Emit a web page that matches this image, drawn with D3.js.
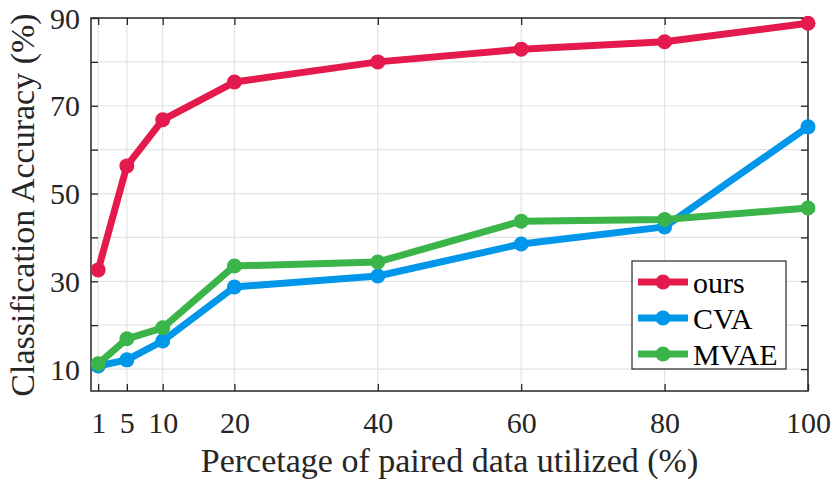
<!DOCTYPE html>
<html>
<head>
<meta charset="utf-8">
<script src="https://cdn.jsdelivr.net/npm/d3@7"></script>
<style>
  html, body { margin: 0; padding: 0; background: #fff; }
  svg { display: block; font-family: "Liberation Serif", "Times New Roman", serif; }
</style>
</head>
<body>
<svg id="chart" width="833" height="482"></svg>
<script>
// Percentage of paired data used for training
const xValues = [1, 5, 10, 20, 40, 60, 80, 100];
const xTickLabels = ["1", "5", "10", "20", "40", "60", "80", "100"];
const yTickLabels = [10, 30, 50, 70, 90];
const yGrid = [10, 20, 30, 40, 50, 60, 70, 80, 90];

// Classification accuracy (%) per method
const oursAcc = [32.6, 56.3, 66.8, 75.4, 80.0, 82.9, 84.6, 88.8];
const cvaAcc  = [10.7, 12.1, 16.4, 28.7, 31.2, 38.5, 42.4, 65.2];
const mvaeAcc = [11.2, 16.9, 19.4, 33.5, 34.4, 43.7, 44.1, 46.7];

const seriesNames = ["ours", "CVA", "MVAE"];
const seriesColors = ["#e41a4c", "#0096ea", "#3bb44a"];

const series = [
  { name: seriesNames[0], color: seriesColors[0], values: oursAcc },
  { name: seriesNames[1], color: seriesColors[1], values: cvaAcc },
  { name: seriesNames[2], color: seriesColors[2], values: mvaeAcc }
];

const svg = d3.select("#chart");
const plotL = 91, plotR = 808, plotT = 18, plotB = 391;

const x = d3.scaleLinear().domain([0, 100]).range([plotL, plotR]);
const y = d3.scaleLinear().domain([5, 90]).range([plotB, plotT]);

// grid
const grid = svg.append("g");
grid.selectAll("line.gx").data(xValues).join("line")
  .attr("x1", d => x(d)).attr("x2", d => x(d))
  .attr("y1", plotT).attr("y2", plotB)
  .attr("stroke", "#e3e3e3").attr("stroke-width", 1.2);
grid.selectAll("line.gy").data(yGrid).join("line")
  .attr("x1", plotL).attr("x2", plotR)
  .attr("y1", d => y(d)).attr("y2", d => y(d))
  .attr("stroke", "#e3e3e3").attr("stroke-width", 1.2);

// inward ticks on all four sides
const tickLen = 7;
const axisColor = "#262626";
const xb = d3.axisBottom(x).tickValues(xValues).tickSizeInner(-tickLen).tickSizeOuter(0).tickFormat((d, i) => xTickLabels[i]);
const xt = d3.axisTop(x).tickValues(xValues).tickSizeInner(-tickLen).tickSizeOuter(0).tickFormat("");
const yl = d3.axisLeft(y).tickValues(yGrid).tickSizeInner(-tickLen).tickSizeOuter(0)
  .tickFormat(d => yTickLabels.includes(d) ? d : "");
const yr = d3.axisRight(y).tickValues(yGrid).tickSizeInner(-tickLen).tickSizeOuter(0).tickFormat("");

function styleAxis(g) {
  g.select(".domain").remove();
  g.selectAll(".tick line").attr("stroke", axisColor).attr("stroke-width", 1.3);
  g.selectAll(".tick text").attr("fill", "#262626")
    .style("font-family", "Liberation Serif").style("font-size", "30px");
}

svg.append("g").attr("transform", `translate(0,${plotB})`).call(xb).call(styleAxis)
  .selectAll(".tick text").attr("dy", "0").attr("y", 42);
svg.append("g").attr("transform", `translate(0,${plotT})`).call(xt).call(styleAxis);
svg.append("g").attr("transform", `translate(${plotL},0)`).call(yl).call(styleAxis)
  .selectAll(".tick text").attr("x", -11).attr("dy", "0.34em");
svg.append("g").attr("transform", `translate(${plotR},0)`).call(yr).call(styleAxis);

// frame
svg.append("rect")
  .attr("x", plotL).attr("y", plotT).attr("width", plotR - plotL).attr("height", plotB - plotT)
  .attr("fill", "none").attr("stroke", axisColor).attr("stroke-width", 1.5);

// lines and markers
const line = d3.line().x((d, i) => x(xValues[i])).y(d => y(d));
const sg = svg.append("g");
series.forEach(s => {
  sg.append("path").datum(s.values)
    .attr("d", line).attr("fill", "none")
    .attr("stroke", s.color).attr("stroke-width", 7)
    .attr("stroke-linejoin", "round");
  sg.selectAll(null).data(s.values).join("circle")
    .attr("cx", (d, i) => x(xValues[i])).attr("cy", d => y(d))
    .attr("r", 7.5).attr("fill", s.color);
});

// legend
const lg = svg.append("g").attr("transform", "translate(632,261)");
lg.append("rect").attr("width", 154).attr("height", 108)
  .attr("fill", "#fff").attr("stroke", axisColor).attr("stroke-width", 1.2);
series.forEach((s, i) => {
  const cy = 21 + i * 36;
  lg.append("line").attr("x1", 6).attr("x2", 56).attr("y1", cy).attr("y2", cy)
    .attr("stroke", s.color).attr("stroke-width", 7);
  lg.append("circle").attr("cx", 31).attr("cy", cy).attr("r", 7.5).attr("fill", s.color);
  lg.append("text").attr("x", 61).attr("y", cy).attr("dy", "0.35em")
    .style("font-size", "30px").attr("fill", "#000").text(s.name);
});

// axis titles
svg.append("text")
  .attr("x", (plotL + plotR) / 2).attr("y", 472)
  .attr("text-anchor", "middle").style("font-size", "34px").attr("fill", "#262626")
  .text("Percetage of paired data utilized (%)");
svg.append("text")
  .attr("transform", `translate(34,205) rotate(-90)`)
  .attr("text-anchor", "middle").style("font-size", "34px").attr("fill", "#262626")
  .text("Classification Accuracy (%)");
</script>
</body>
</html>
